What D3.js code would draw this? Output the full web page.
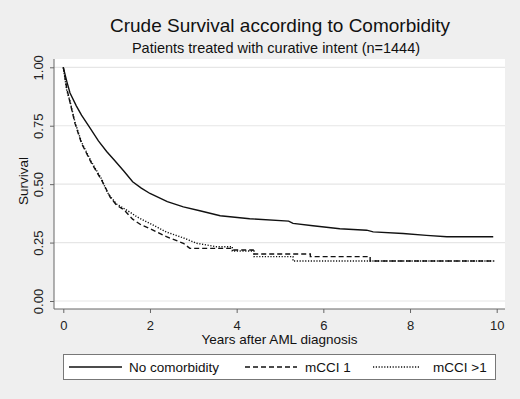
<!DOCTYPE html>
<html>
<head>
<meta charset="utf-8">
<script src="https://cdn.jsdelivr.net/npm/d3@7"></script>
<style>
  body { margin: 0; background: #efefef; }
  svg { display: block; font-family: "Liberation Sans", Arial, sans-serif; }
</style>
</head>
<body>
<svg class="chart" width="520" height="399"></svg>
<script>
// Kaplan-Meier estimates: [years, survival]
var noComorbidity = [[0,1.0],[0.08,0.94],[0.155,0.89],[0.3,0.835],[0.42,0.795],[0.6,0.745],
  [0.81,0.685],[1.0,0.64],[1.19,0.60],[1.4,0.555],[1.6,0.51],[1.8,0.483],[2.0,0.46],
  [2.4,0.425],[2.77,0.403],[3.15,0.386],[3.62,0.365],[4.3,0.352],[5.2,0.342],[5.3,0.332],
  [5.76,0.322],[6.38,0.309],[7.0,0.303],[7.15,0.296],[7.84,0.289],[8.38,0.281],[8.85,0.275],[9.92,0.275]];

var mcci1 = [[0,1.0],[0.08,0.91],[0.155,0.85],[0.27,0.76],[0.42,0.675],[0.65,0.59],[0.89,0.515],
  [1.0,0.475],[1.08,0.445],[1.23,0.41],[1.4,0.39],[1.6,0.35],[1.8,0.325],[2.0,0.31],[2.38,0.275],
  [2.77,0.247],[2.92,0.225],[3.9,0.225],[3.92,0.218],[4.38,0.218],[4.38,0.201],[5.7,0.201],
  [5.7,0.19],[7.08,0.19],[7.08,0.171],[9.95,0.171]];

var mcciOver1 = [[0,1.0],[0.08,0.90],[0.155,0.855],[0.27,0.765],[0.42,0.68],[0.65,0.595],[0.89,0.52],
  [1.0,0.47],[1.08,0.448],[1.23,0.415],[1.54,0.38],[1.7,0.36],[2.0,0.332],[2.38,0.295],[2.77,0.27],
  [3.08,0.247],[3.54,0.232],[3.9,0.232],[3.9,0.214],[4.4,0.214],[4.4,0.19],[5.3,0.19],[5.3,0.171],[9.95,0.171]];

var seriesNames = ["No comorbidity", "mCCI 1", "mCCI >1"];
var xTicks = [0, 2, 4, 6, 8, 10];
var yTicks = [0, 0.25, 0.5, 0.75, 1];

var svg = d3.select(".chart"),
    width = +svg.attr("width"),
    height = +svg.attr("height");

// plot region (white box)
var plot = {left: 54, right: 505, top: 59, bottom: 309};

var x = d3.scaleLinear().domain([0, 10]).range([63.3, 496.7]);
var y = d3.scaleLinear().domain([0, 1]).range([301, 67.3]);

svg.append("rect").attr("width", width).attr("height", height).attr("fill", "#efefef");
svg.append("rect")
  .attr("x", plot.left).attr("y", plot.top)
  .attr("width", plot.right - plot.left).attr("height", plot.bottom - plot.top)
  .attr("fill", "#fff");

// grid
svg.append("g").selectAll("line")
  .data(yTicks).enter().append("line")
  .attr("x1", plot.left).attr("x2", plot.right)
  .attr("y1", d => y(d)).attr("y2", d => y(d))
  .attr("stroke", "#e6e6e6").attr("stroke-width", 1.2);

// axes
var yAxis = svg.append("g")
  .attr("transform", "translate(" + plot.left + ",0)")
  .call(d3.axisLeft(y).tickValues(yTicks).tickFormat(d3.format(".2f")).tickSize(4));
yAxis.select(".domain").remove();
yAxis.selectAll("line").attr("stroke", "#666");
yAxis.selectAll("text")
  .attr("transform", "rotate(-90)")
  .attr("x", 0).attr("y", -11).attr("dy", 0)
  .attr("text-anchor", "middle")
  .style("font-size", "13px").attr("fill", "#222");

var xAxis = svg.append("g")
  .attr("transform", "translate(0," + plot.bottom + ")")
  .call(d3.axisBottom(x).tickValues(xTicks).tickFormat(d3.format("d")).tickSize(4));
xAxis.select(".domain").remove();
xAxis.selectAll("line").attr("stroke", "#666");
xAxis.selectAll("text").attr("y", 21).attr("dy", 0)
  .style("font-size", "13px").attr("fill", "#222");

svg.append("line").attr("x1", plot.left).attr("x2", plot.left)
  .attr("y1", plot.top).attr("y2", plot.bottom).attr("stroke", "#666");
svg.append("line").attr("x1", plot.left).attr("x2", plot.right)
  .attr("y1", plot.bottom).attr("y2", plot.bottom).attr("stroke", "#666");

// curves
var line = d3.line().x(d => x(d[0])).y(d => y(d[1]));
var styles = [
  {data: noComorbidity, dash: null},
  {data: mcciOver1, dash: "1.2,1.6"},
  {data: mcci1, dash: "5,3"}
];
svg.append("g").selectAll("path")
  .data(styles).enter().append("path")
  .attr("d", d => line(d.data))
  .attr("fill", "none")
  .attr("stroke", "#111")
  .attr("stroke-width", 1.4)
  .attr("stroke-dasharray", d => d.dash);

// titles
svg.append("text").attr("x", 280).attr("y", 32).attr("text-anchor", "middle")
  .style("font-size", "19px").attr("fill", "#111")
  .text("Crude Survival according to Comorbidity");
svg.append("text").attr("x", 276).attr("y", 53).attr("text-anchor", "middle")
  .style("font-size", "14.5px").attr("fill", "#111")
  .text("Patients treated with curative intent (n=1444)");
svg.append("text").attr("x", 279.5).attr("y", 344).attr("text-anchor", "middle")
  .style("font-size", "13.5px").attr("fill", "#111")
  .text("Years after AML diagnosis");
svg.append("text").attr("transform", "translate(28,181) rotate(-90)").attr("text-anchor", "middle")
  .style("font-size", "13.5px").attr("fill", "#111")
  .text("Survival");

// legend
var legend = svg.append("g");
legend.append("rect").attr("x", 63.5).attr("y", 354.5).attr("width", 432).attr("height", 25)
  .attr("fill", "#fff").attr("stroke", "#777");
var legendItems = [
  {name: seriesNames[0], x1: 69, x2: 122, tx: 129, dash: null},
  {name: seriesNames[1], x1: 245, x2: 297, tx: 305, dash: "5,3"},
  {name: seriesNames[2], x1: 373, x2: 420, tx: 433, dash: "1.2,1.6"}
];
var li = legend.selectAll("g.item").data(legendItems).enter().append("g").attr("class", "item");
li.append("line").attr("x1", d => d.x1).attr("x2", d => d.x2)
  .attr("y1", 367).attr("y2", 367)
  .attr("stroke", "#111").attr("stroke-width", 1.4)
  .attr("stroke-dasharray", d => d.dash);
li.append("text").attr("x", d => d.tx).attr("y", 372)
  .style("font-size", "13.5px").attr("fill", "#111")
  .text(d => d.name);
</script>
</body>
</html>
